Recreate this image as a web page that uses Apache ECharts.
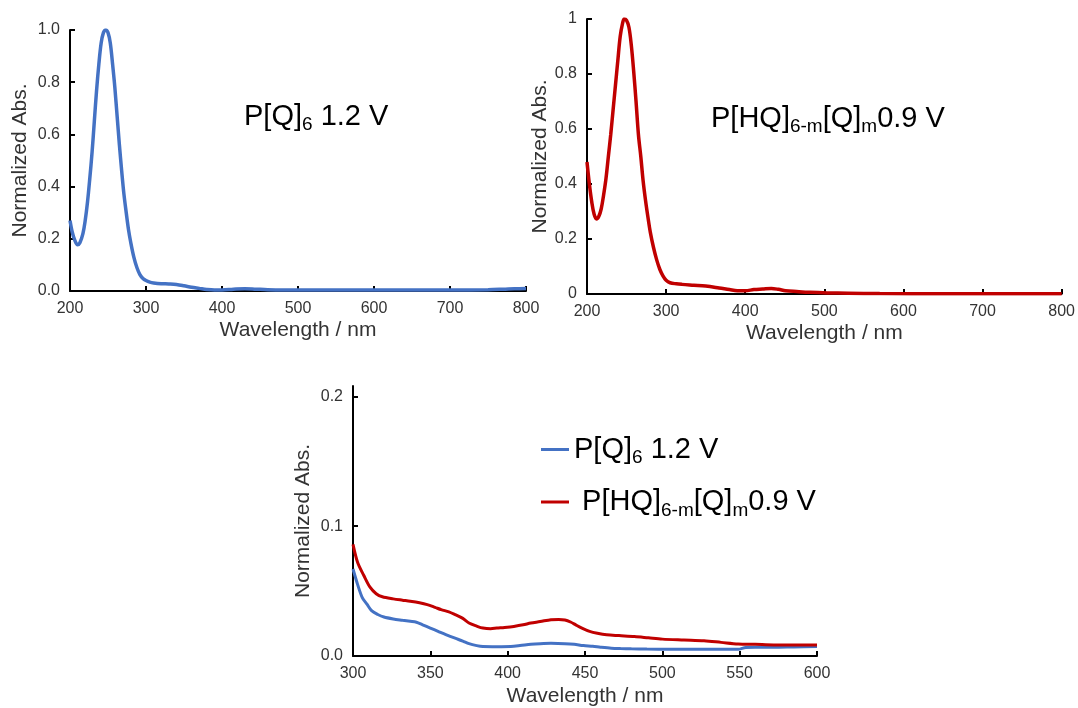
<!DOCTYPE html>
<html>
<head>
<meta charset="utf-8">
<script src="https://cdn.jsdelivr.net/npm/echarts@6/dist/echarts.min.js"></script>
<style>
  html, body { margin: 0; padding: 0; background: #fff; }
  #chart { width: 1078px; height: 708px; }
</style>
</head>
<body>
<div id="chart"></div>
<script>
// top left: P[Q]6 1.2 V, full range
var wlQ = [200, 203, 206, 210, 213, 217, 220, 223, 226, 229, 232, 235, 238, 241, 244, 247, 250, 253, 256, 259, 262, 265, 268, 271, 274, 277, 280, 284, 288, 292, 296, 300, 305, 310, 320, 330, 340, 350, 360, 370, 380, 390, 400, 415, 430, 445, 460, 480, 500, 550, 600, 650, 700, 750, 770, 785, 800];
var absQ = [0.27, 0.225, 0.197, 0.177, 0.185, 0.22, 0.27, 0.34, 0.43, 0.53, 0.65, 0.77, 0.87, 0.95, 0.99, 1.0, 0.99, 0.95, 0.87, 0.78, 0.67, 0.56, 0.46, 0.37, 0.30, 0.235, 0.185, 0.13, 0.09, 0.063, 0.048, 0.04, 0.034, 0.031, 0.028, 0.027, 0.025, 0.020, 0.014, 0.010, 0.006, 0.004, 0.004, 0.007, 0.009, 0.007, 0.005, 0.004, 0.004, 0.004, 0.004, 0.004, 0.004, 0.005, 0.007, 0.009, 0.010];

// top right: P[HQ]6-m[Q]m 0.9 V, full range
var wlHQ = [200, 203, 206, 209, 212, 215, 218, 221, 224, 227, 230, 233, 236, 239, 242, 245, 247, 250, 253, 256, 259, 262, 265, 268, 271, 274, 277, 280, 284, 288, 292, 296, 300, 305, 313, 320, 335, 350, 367, 380, 390, 400, 411, 422, 433, 442, 451, 465, 482, 504, 530, 570, 650, 800];
var absHQ = [0.48, 0.40, 0.335, 0.29, 0.273, 0.283, 0.31, 0.36, 0.42, 0.50, 0.58, 0.67, 0.76, 0.85, 0.937, 0.985, 1.0, 0.995, 0.97, 0.905, 0.81, 0.70, 0.58, 0.50, 0.41, 0.34, 0.28, 0.225, 0.17, 0.125, 0.09, 0.066, 0.05, 0.041, 0.037, 0.035, 0.032, 0.029, 0.022, 0.016, 0.012, 0.012, 0.016, 0.018, 0.020, 0.017, 0.012, 0.009, 0.006, 0.004, 0.003, 0.0015, 0.001, 0.001];

// bottom: zoomed 300-600 nm
var wlZoomQ = [300, 303, 306, 309, 312, 316, 320, 326, 332, 337, 341, 345, 350, 355, 360, 366, 371, 375, 380, 384, 390, 396, 402, 408, 415, 421, 428, 437, 443, 449, 455, 460, 467, 473, 480, 490, 505, 520, 535, 549, 554, 560, 572, 585, 600];
var absZoomQ = [0.067, 0.055, 0.045, 0.040, 0.035, 0.032, 0.030, 0.0285, 0.0275, 0.0267, 0.026, 0.024, 0.0215, 0.019, 0.0165, 0.0137, 0.0115, 0.0095, 0.008, 0.0073, 0.0072, 0.0072, 0.0073, 0.008, 0.009, 0.0095, 0.0098, 0.0095, 0.009, 0.008, 0.0075, 0.0068, 0.006, 0.0057, 0.0055, 0.0053, 0.0052, 0.0052, 0.0052, 0.0052, 0.0066, 0.0067, 0.0067, 0.007, 0.0073];
var wlZoomHQ = [300, 303, 307, 311, 315, 319, 326, 332, 337, 343, 348, 353, 357, 362, 366, 371, 375, 380, 384, 389, 393, 398, 404, 410, 415, 421, 428, 433, 437, 441, 444, 448, 453, 458, 464, 472, 482, 491, 500, 514, 527, 538, 549, 560, 572, 585, 600];
var absZoomHQ = [0.086, 0.072, 0.062, 0.053, 0.048, 0.0456, 0.044, 0.043, 0.0422, 0.041, 0.0396, 0.0375, 0.0357, 0.034, 0.0319, 0.029, 0.0254, 0.023, 0.0215, 0.021, 0.0215, 0.022, 0.0228, 0.024, 0.0254, 0.0265, 0.028, 0.0282, 0.0278, 0.026, 0.024, 0.0215, 0.019, 0.0175, 0.0163, 0.0157, 0.015, 0.014, 0.013, 0.0123, 0.0117, 0.0105, 0.0093, 0.009, 0.0085, 0.0085, 0.0085];

var nameQ = 'P[Q]6 1.2 V';
var nameHQ = 'P[HQ]6-m[Q]m 0.9 V';

var BLUE = '#4472C4';
var RED = '#C00000';
var FONT = "'Liberation Sans', Arial, sans-serif";
var TEXT = '#333';

function pairs(xs, ys) {
  var out = [];
  for (var i = 0; i < xs.length; i++) out.push([xs[i], ys[i]]);
  return out;
}

// rich styles for the subscripted labels
var richStyles = {
  m: { fontSize: 29, fontFamily: FONT, color: '#000', fill: '#000', lineHeight: 36 },
  s: { fontSize: 19, fontFamily: FONT, color: '#000', fill: '#000', lineHeight: 18, verticalAlign: 'bottom' }
};
var richQ = '{m|P[Q]}{s|6}{m| 1.2 V}';
var richHQ = '{m|P[HQ]}{s|6-m}{m|[Q]}{s|m}{m|0.9 V}';

function xAxisFor(gi, min, max, interval, gap) {
  return {
    gridIndex: gi, type: 'value', min: min, max: max, interval: interval,
    name: 'Wavelength / nm', nameLocation: 'middle', nameGap: gap,
    nameTextStyle: { fontSize: 21, color: TEXT, fontFamily: FONT },
    axisLine: { lineStyle: { color: '#000', width: 2 } },
    axisTick: { inside: true, length: 5, lineStyle: { color: '#000', width: 2 } },
    axisLabel: { fontSize: 16, color: TEXT, fontFamily: FONT, margin: 10 },
    splitLine: { show: false }
  };
}

function yAxisFor(gi, min, max, interval, gap, fmt) {
  return {
    gridIndex: gi, type: 'value', min: min, max: max, interval: interval,
    name: 'Normalized Abs.', nameLocation: 'middle', nameGap: gap,
    nameTextStyle: { fontSize: 21, color: TEXT, fontFamily: FONT },
    axisLine: { show: true, lineStyle: { color: '#000', width: 2 } },
    axisTick: { show: true, inside: true, length: 5, lineStyle: { color: '#000', width: 2 } },
    axisLabel: { fontSize: 16, color: TEXT, fontFamily: FONT, margin: 10, formatter: fmt },
    splitLine: { show: false }
  };
}

var chart = echarts.init(document.getElementById('chart'));

var yZoom = yAxisFor(2, 0, 0.208, 0.1, 39, function (v) { return v.toFixed(1); });
yZoom.axisLabel.customValues = [0, 0.1, 0.2];
yZoom.axisTick.customValues = [0, 0.1, 0.2];

var option = {
  backgroundColor: '#fff',
  animation: false,
  grid: [
    { left: 70, top: 30, right: 552, bottom: 417 },
    { left: 587, top: 19, right: 15, bottom: 414 },
    { left: 353, top: 386, right: 261, bottom: 52 }
  ],
  xAxis: [
    xAxisFor(0, 200, 800, 100, 29),
    xAxisFor(1, 200, 800, 100, 29),
    xAxisFor(2, 300, 600, 50, 30)
  ],
  yAxis: [
    yAxisFor(0, 0, 1, 0.2, 39, function (v) { return v.toFixed(1); }),
    yAxisFor(1, 0, 1, 0.2, 23, function (v) { return String(+v.toFixed(1)); }),
    yZoom
  ],
  legend: {
    data: [nameQ, nameHQ],
    orient: 'vertical',
    left: 541,
    top: 435,
    padding: 0,
    itemGap: 20,
    icon: 'rect',
    itemWidth: 28,
    itemHeight: 3,
    selectedMode: false,
    formatter: function (name) {
      return name === nameQ ? richQ : '{m| }' + richHQ;
    },
    textStyle: { rich: richStyles }
  },
  graphic: [
    { type: 'text', left: 244, top: 102, style: { text: richQ, rich: richStyles } },
    { type: 'text', left: 711, top: 104, style: { text: richHQ, rich: richStyles } }
  ],
  series: [
    {
      name: 'P[Q]6 overview', type: 'line', xAxisIndex: 0, yAxisIndex: 0,
      data: pairs(wlQ, absQ), showSymbol: false, smooth: 0.35,
      lineStyle: { color: BLUE, width: 3.5 }, itemStyle: { color: BLUE }
    },
    {
      name: 'P[HQ] overview', type: 'line', xAxisIndex: 1, yAxisIndex: 1,
      data: pairs(wlHQ, absHQ), showSymbol: false, smooth: 0.35,
      lineStyle: { color: RED, width: 3.5 }, itemStyle: { color: RED }
    },
    {
      name: nameQ, type: 'line', xAxisIndex: 2, yAxisIndex: 2,
      data: pairs(wlZoomQ, absZoomQ), showSymbol: false, smooth: 0.3,
      lineStyle: { color: BLUE, width: 3 }, itemStyle: { color: BLUE }
    },
    {
      name: nameHQ, type: 'line', xAxisIndex: 2, yAxisIndex: 2,
      data: pairs(wlZoomHQ, absZoomHQ), showSymbol: false, smooth: 0.3,
      lineStyle: { color: RED, width: 3 }, itemStyle: { color: RED }
    }
  ]
};

chart.setOption(option);
</script>
</body>
</html>
